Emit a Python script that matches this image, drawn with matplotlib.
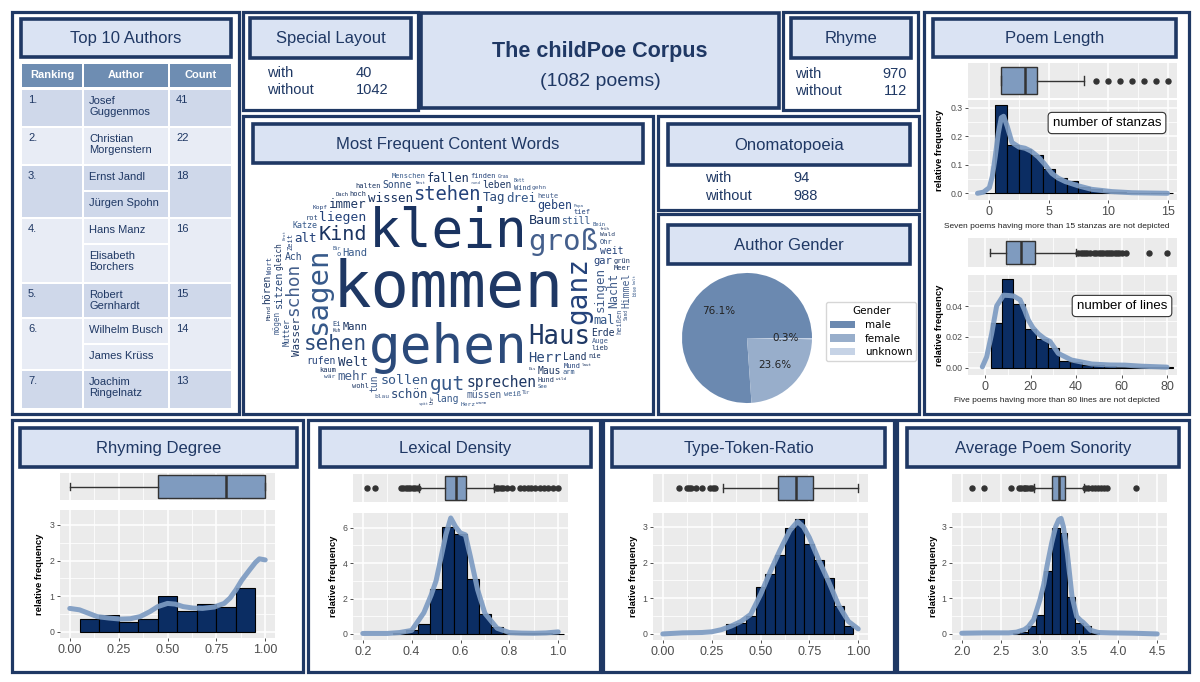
import numpy as np
import matplotlib
matplotlib.use('Agg')
import matplotlib.pyplot as plt
from matplotlib.patches import Rectangle

plt.rcParams['font.family'] = ['Liberation Sans', 'DejaVu Sans']

# ---------------------------------------------------------------- data
corpus_title = 'The childPoe Corpus'
corpus_size = 1082
with_without = ['with', 'without']
special_layout_counts = [40, 1042]
rhyme_counts = [970, 112]
onomatopoeia_counts = [94, 988]

table_columns = ['Ranking', 'Author', 'Count']
author_ranks = ['1.', '2.', '3.', '4.', '5.', '6.', '7.']
author_names = [['Josef\nGuggenmos'], ['Christian\nMorgenstern'],
                ['Ernst Jandl', 'Jürgen Spohn'], ['Hans Manz', 'Elisabeth\nBorchers'],
                ['Robert\nGernhardt'], ['Wilhelm Busch', 'James Krüss'],
                ['Joachim\nRingelnatz']]
author_counts = [41, 22, 18, 16, 15, 14, 13]

gender_labels = ['male', 'female', 'unknown']
gender_share = [76.1, 23.6, 0.3]

cloud_words = ['kommen', 'gehen', 'klein', 'sagen', 'ganz', 'groß', 'Haus', 'sehen', 'Kind', 'gut',
               'stehen', 'schon', 'sprechen', 'Herr', 'Baum', 'sollen', 'liegen', 'singen', 'Welt', 'Tag',
               'wissen', 'drei', 'alt', 'mehr', 'immer', 'schön', 'fallen', 'mal', 'geben', 'Nacht',
               'Wasser', 'sitzen', 'Mann', 'Hand', 'gar', 'Himmel', 'Maus', 'Ach', 'Land', 'still',
               'rufen', 'müssen', 'leben', 'Sonne', 'Erde', 'lang', 'weit', 'tun', 'hören', 'denken',
               'fliegen', 'Katze', 'lassen', 'Traum', 'bleiben', 'Mutter', 'gleich', 'schnell', 'laufen', 'mögen',
               'tragen', 'Vater', 'Stern', 'nehmen', 'Mund', 'Auge', 'Hund', 'schauen', 'kaum', 'weiß',
               'Zeit', 'heißen', 'wohl', 'Ohr', 'hoch', 'schreiben', 'Wort', 'Frau', 'Meer', 'Wind',
               'halten', 'Menschen', 'finden', 'heute', 'lieb', 'rot', 'grün', 'arm', 'tief', 'zwei',
               'voll', 'Ei', 'nie', 'o', 'Licht', 'blau', 'Wald', 'lachen', 'leise', 'Herz',
               'Kopf', 'gehn', 'Schnee', 'gern', 'schwarz', 'recht', 'bald', 'König', 'Mond', 'wär',
               'Tier', 'ziehen', 'Gott', 'Gedicht', 'Regen', 'fahren', 'dunkel', 'Fenster', 'Stein', 'Blatt',
               'Lied', 'Schwein', 'Leute', 'Bein', 'bringen', 'stehn', 'Vogel', 'Pferd', 'Dach', 'See',
               'Stadt', 'Elefant', 'erster', 'Glück', 'Luft', 'Fisch', 'Ende', 'Schlaf', 'Winter', 'Abend',
               'Garten', 'Bett', 'Gras', 'wohnen', 'lieben', 'Wein', 'Uhr', 'weinen', 'Tisch', 'dürfen',
               'hell', 'bunt', 'vielleicht', 'träumen', 'legen', 'froh', 'Kuh', 'Sand', 'Ding', 'böse',
               'Nase', 'Wolke', 'Blume', 'Hase', 'fragen', 'Bär', 'Freund', 'Tür', 'Boot', 'Insel',
               'Sommer', 'Morgen', 'Nest', 'rund', 'wild', 'Schule', 'lesen', 'spielen', 'Apfel', 'Brot',
               'Eis', 'Kinder', 'laut', 'kalt', 'warm', 'spät', 'früh', 'oben', 'unten', 'Papa']
cloud_sizes = [46, 38, 38, 21, 20, 21, 18.5, 15, 14.5, 14,
               13.5, 12.8, 10.5, 10, 9.6, 9.6, 9.4, 9, 9, 9,
               9, 9, 9, 9, 9, 8.9, 8.6, 8.6, 8.4, 8.4,
               7.8, 7.5, 7.5, 7.5, 7.5, 7, 7, 7, 7, 7,
               7, 7, 7, 7, 7, 7, 7, 7, 7, 6.5,
               6.5, 6, 6, 6, 6, 5.5, 5.5, 5.5, 5.5, 5.5,
               5.5, 5.5, 5.5, 5.5, 5, 5, 5, 5, 5, 5,
               5, 5, 5, 5, 5, 5, 5, 5, 5, 5,
               5, 5, 5, 5, 5, 5, 5, 5, 5, 5,
               5, 5, 5, 5, 4.5, 4.5, 4.5, 4.5, 4.5, 4.5,
               4.5, 4.5, 4.5, 4.5, 4.5, 4.5, 4.5, 4.5, 4.5, 4.5,
               4.5, 4.5, 4.5, 4.2, 4.2, 4.2, 4.2, 4.2, 4.2, 4.2,
               4.2, 4, 4, 4, 4, 4, 4, 4, 4, 4,
               3.8, 3.8, 3.8, 3.8, 3.8, 3.8, 3.8, 3.8, 3.8, 3.8,
               3.5, 3.5, 3.5, 3.5, 3.5, 3.5, 3.5, 3.5, 3.5, 3.5,
               3.5, 3.5, 3.5, 3.5, 3.5, 3.3, 3.3, 3.3, 3.3, 3.3,
               3.3, 3.3, 3.3, 3.3, 3.3, 3.3, 3.3, 3.3, 3.3, 3.3,
               3, 3, 3, 3, 3, 3, 3, 3, 3, 3,
               3, 3, 3, 3, 3, 3, 3, 3, 3, 3]
cloud_vertical = [0, 0, 0, 1, 1, 0, 0, 0, 0, 0,
                  0, 1, 0, 0, 0, 0, 0, 1, 0, 0,
                  0, 0, 0, 0, 0, 0, 0, 0, 0, 1,
                  1, 1, 0, 0, 0, 1, 0, 0, 0, 0,
                  0, 0, 0, 0, 0, 0, 0, 1, 1, 0,
                  0, 0, 0, 0, 1, 1, 1, 1, 1, 1,
                  1, 0, 0, 0, 0, 0, 0, 1, 0, 0,
                  1, 1, 0, 0, 0, 0, 1, 1, 0, 0,
                  0, 0, 0, 0, 0, 0, 0, 0, 0, 0,
                  0, 0, 0, 0, 0, 0, 0, 1, 0, 0,
                  0, 0, 0, 0, 1, 0, 0, 1, 1, 0,
                  0, 0, 0, 1, 1, 1, 1, 0, 0, 0,
                  0, 0, 0, 0, 0, 0, 0, 0, 0, 0,
                  0, 0, 0, 0, 0, 0, 0, 0, 0, 0,
                  0, 0, 0, 0, 0, 0, 1, 1, 0, 1,
                  0, 0, 0, 0, 0, 0, 0, 1, 0, 1,
                  0, 1, 0, 0, 1, 0, 0, 0, 1, 0,
                  0, 1, 0, 0, 0, 1, 0, 0, 0, 1,
                  0, 0, 0, 1, 0, 0, 0, 1, 0, 0]

# poem length: stanzas
stanza_bins = [0, 1, 2, 3, 4, 5, 6, 7, 8, 9, 10, 11, 12, 13, 14, 15]
stanza_freq = [0.0, 0.31, 0.17, 0.155, 0.135, 0.084, 0.053, 0.042, 0.022, 0.015, 0.006, 0.003, 0.002, 0.001, 0.001, 0.001]
stanza_dens_x = [-1, -0.5, 0, 0.25, 0.5, 0.75, 1.0, 1.2, 1.5, 1.9, 2.5, 3.0, 3.5, 4.1, 4.6, 5.25, 5.8, 6.4, 7.5, 8.6, 10.3, 12, 13.5, 15]
stanza_dens_y = [0.0, 0.004, 0.02, 0.06, 0.13, 0.21, 0.265, 0.27, 0.235, 0.178, 0.162, 0.158, 0.148, 0.128, 0.105, 0.07, 0.053, 0.041, 0.026, 0.014, 0.006, 0.002, 0.001, 0.0]
stanza_box = [1, 1, 3, 4, 8]
stanza_outliers = [9, 10, 11, 12, 13, 14, 15]

# poem length: lines
line_bins = [5, 10, 15, 20, 25, 30, 35, 40, 45, 50, 55, 60, 65, 70, 75, 80]
line_freq = [0.0288, 0.0575, 0.0413, 0.0251, 0.0184, 0.0125, 0.0043, 0.0035, 0.002, 0.002, 0.001, 0.0008, 0.0006, 0.0003, 0.0002, 0.0002]
line_dens_x = [-1.2, 0.7, 2.9, 5.1, 8.1, 10.5, 12.5, 15.4, 17.5, 19, 21, 23.4, 26, 28.6, 32.2, 38, 47, 55, 61.5, 68.9, 80]
line_dens_y = [0.0006, 0.007, 0.022, 0.040, 0.047, 0.0468, 0.0465, 0.044, 0.037, 0.031, 0.026, 0.022, 0.019, 0.017, 0.0093, 0.005, 0.0024, 0.0018, 0.0017, 0.001, 0.0004]
line_box = [2, 9, 16, 22, 40]
line_outliers = [41, 42, 43, 44, 45, 46, 48, 49, 50, 51, 52, 53, 54, 55, 56, 57, 58, 59, 60, 62, 72, 80]

# rhyming degree
rhyming_bins = [0.1, 0.2, 0.3, 0.4, 0.5, 0.6, 0.7, 0.8, 0.9]
rhyming_freq = [0.37, 0.48, 0.28, 0.36, 1.0, 0.59, 0.78, 0.71, 1.24]
rhyming_dens_x = [0.0, 0.05, 0.14, 0.2, 0.26, 0.31, 0.36, 0.41, 0.45, 0.5, 0.54, 0.58, 0.63, 0.68, 0.74, 0.79, 0.82, 0.85, 0.88, 0.92, 0.95, 0.97, 1.0]
rhyming_dens_y = [0.66, 0.62, 0.43, 0.39, 0.36, 0.37, 0.43, 0.57, 0.71, 0.8, 0.78, 0.71, 0.67, 0.66, 0.7, 0.8, 0.95, 1.18, 1.45, 1.74, 1.95, 2.05, 2.02]
rhyming_box = [0.0, 0.45, 0.80, 1.0, 1.0]
rhyming_outliers = []

# lexical density
lexical_bins = [0.35, 0.40, 0.45, 0.50, 0.55, 0.60, 0.65, 0.70, 0.75, 0.80, 0.85, 0.90, 0.95, 1.00]
lexical_freq = [0.04, 0.23, 0.56, 2.52, 6.03, 5.64, 3.12, 1.13, 0.41, 0.08, 0.04, 0.04, 0.03, 0.02]
lexical_dens_x = [0.2, 0.3, 0.35, 0.4, 0.45, 0.48, 0.5, 0.52, 0.54, 0.56, 0.58, 0.6, 0.62, 0.64, 0.67, 0.7, 0.75, 0.8, 0.85, 0.9, 0.95, 1.0]
lexical_dens_y = [0.03, 0.03, 0.08, 0.2, 1.2, 2.2, 3.0, 4.3, 5.6, 6.55, 6.05, 5.7, 5.6, 4.4, 2.5, 1.16, 0.32, 0.08, 0.05, 0.04, 0.06, 0.12]
lexical_box = [0.431, 0.537, 0.581, 0.622, 0.737]
lexical_outliers = [0.216, 0.248, 0.355, 0.365, 0.375, 0.385, 0.395, 0.405, 0.415, 0.425,
                    0.745, 0.755, 0.765, 0.775, 0.79, 0.81, 0.845, 0.86, 0.875, 0.89, 0.905, 0.925, 0.94, 0.96, 0.98, 1.0]

# type-token-ratio
ttr_bins = [0.35, 0.40, 0.45, 0.50, 0.55, 0.60, 0.65, 0.70, 0.75, 0.80, 0.85, 0.90, 0.95]
ttr_freq = [0.28, 0.31, 0.49, 1.31, 1.69, 2.22, 2.96, 3.22, 2.53, 2.06, 1.57, 0.79, 0.23]
ttr_dens_x = [0.0, 0.1, 0.2, 0.25, 0.3, 0.35, 0.4, 0.45, 0.5, 0.55, 0.6, 0.65, 0.69, 0.72, 0.75, 0.8, 0.85, 0.9, 0.95, 1.0]
ttr_dens_y = [0.0, 0.03, 0.04, 0.06, 0.12, 0.22, 0.35, 0.55, 1.1, 1.75, 2.35, 2.9, 3.15, 3.0, 2.7, 2.05, 1.45, 0.8, 0.35, 0.14]
ttr_box = [0.307, 0.588, 0.681, 0.77, 1.0]
ttr_outliers = [0.085, 0.125, 0.135, 0.145, 0.17, 0.2, 0.24, 0.255, 0.265]

# average poem sonority
son_bins = [2.7, 2.8, 2.9, 3.0, 3.1, 3.2, 3.3, 3.4, 3.5, 3.6, 3.7]
son_freq = [0.02, 0.05, 0.21, 0.52, 1.77, 2.96, 2.84, 1.03, 0.31, 0.21, 0.03]
son_dens_x = [2.0, 2.3, 2.6, 2.7, 2.8, 2.85, 2.92, 3.0, 3.05, 3.09, 3.15, 3.2, 3.24, 3.27, 3.3, 3.35, 3.41, 3.47, 3.52, 3.55, 3.6, 3.65, 3.75, 3.9, 4.2, 4.5]
son_dens_y = [0.02, 0.03, 0.03, 0.05, 0.12, 0.2, 0.4, 0.96, 1.4, 1.9, 2.55, 3.0, 3.2, 3.24, 3.0, 2.26, 1.05, 0.49, 0.38, 0.33, 0.22, 0.1, 0.04, 0.03, 0.02, 0.0]
son_box = [2.92, 3.154, 3.24, 3.32, 3.56]
son_outliers = [2.128, 2.278, 2.63, 2.73, 2.76, 2.79, 2.81, 2.84, 2.87, 2.9,
                3.58, 3.62, 3.66, 3.7, 3.74, 3.78, 3.82, 3.86, 4.226]

# ---------------------------------------------------------------- style
NAVY = '#1f3864'
HEAD_FILL = '#dae3f3'
BAR = '#0b2d63'
DENS = '#7d9bc2'
BOXFILL = '#7f9bbf'
W, H = 1200, 682

fig = plt.figure(figsize=(12, 6.82), dpi=100, facecolor='white')
bg = fig.add_axes([0, 0, 1, 1])
bg.set_xlim(0, W)
bg.set_ylim(H, 0)
bg.axis('off')
bg.set_zorder(-5)


def panel(x0, y0, x1, y1):
    bg.add_patch(Rectangle((x0, y0), x1 - x0, y1 - y0, facecolor='white',
                           edgecolor=NAVY, lw=2.3, zorder=1))


def header(x0, y0, x1, y1, text, size=12):
    bg.add_patch(Rectangle((x0, y0), x1 - x0, y1 - y0, facecolor=HEAD_FILL,
                           edgecolor=NAVY, lw=2.6, zorder=2))
    bg.text((x0 + x1) / 2, (y0 + y1) / 2 + 1, text, ha='center', va='center',
            fontsize=size, color=NAVY, zorder=3)


def px_axes(x0, y0, x1, y1):
    return fig.add_axes([x0 / W, 1 - y1 / H, (x1 - x0) / W, (y1 - y0) / H])


# ---------------------------------------------------------------- panels
panel(12, 12, 239, 414)
panel(243, 12, 418, 110)
panel(783, 12, 918, 110)
panel(924, 12, 1189, 414)
panel(243, 116, 653, 414)
panel(658, 116, 919, 210)
panel(658, 214, 919, 414)
for bx in [(12, 303), (308, 600), (603, 894), (897, 1189)]:
    panel(bx[0], 420, bx[1], 672)

bg.add_patch(Rectangle((421, 13), 358, 95, facecolor=HEAD_FILL, edgecolor=NAVY, lw=2.6, zorder=2))
bg.text(600, 52, corpus_title, ha='center', va='center', fontsize=15.5,
        fontweight='bold', color=NAVY, zorder=3)
bg.text(600, 81, f'({corpus_size} poems)', ha='center', va='center', fontsize=14,
        color=NAVY, zorder=3)

header(21, 19, 231, 57, 'Top 10 Authors')
header(250, 18, 411, 58, 'Special Layout')
header(791, 18, 911, 58, 'Rhyme')
header(933, 19, 1176, 57, 'Poem Length')
header(253, 124, 643, 163, 'Most Frequent Content Words')
header(668, 124, 910, 165, 'Onomatopoeia')
header(668, 225, 910, 264, 'Author Gender')
header(20, 428, 297, 467, 'Rhyming Degree')
header(320, 428, 591, 467, 'Lexical Density')
header(612, 428, 885, 467, 'Type-Token-Ratio')
header(907, 428, 1179, 467, 'Average Poem Sonority')

for i, lab in enumerate(with_without):
    yy = 73 + 17 * i
    bg.text(267, yy, lab, ha='left', va='center', fontsize=10.5, color=NAVY)
    bg.text(356, yy, str(special_layout_counts[i]), ha='left', va='center', fontsize=10.5, color=NAVY)
    yy = 74 + 17 * i
    bg.text(795, yy, lab, ha='left', va='center', fontsize=10.5, color=NAVY)
    bg.text(907, yy, str(rhyme_counts[i]), ha='right', va='center', fontsize=10.5, color=NAVY)
    yy = 178 + 18 * i
    bg.text(705, yy, lab, ha='left', va='center', fontsize=10.5, color=NAVY)
    bg.text(793, yy, str(onomatopoeia_counts[i]), ha='left', va='center', fontsize=10.5, color=NAVY)

# ---------------------------------------------------------------- table
col_x = [(22, 82), (84, 168), (170, 231)]
row_y = [(90, 126), (128, 164), (166, 217), (219, 282), (284, 317), (319, 369), (371, 408)]
sub_rows = {2: [(166, 190), (192, 217)], 3: [(219, 243), (245, 282)], 5: [(319, 343), (345, 369)]}
DARK, LIGHT, THEAD = '#cfd8ea', '#e8ecf5', '#6e8db2'
for c, (xa, xb) in enumerate(col_x):
    bg.add_patch(Rectangle((xa, 64), xb - xa, 23, facecolor=THEAD, edgecolor='none', zorder=2))
    bg.text((xa + xb) / 2, 75.5, table_columns[c], ha='center', va='center', fontsize=8,
            fontweight='bold', color='white', zorder=3)
for r, (ya, yb) in enumerate(row_y):
    fc = DARK if r % 2 == 0 else LIGHT
    for c in (0, 2):
        xa, xb = col_x[c]
        bg.add_patch(Rectangle((xa, ya), xb - xa, yb - ya, facecolor=fc, edgecolor='none', zorder=2))
    bg.text(28, ya + 5, author_ranks[r], ha='left', va='top', fontsize=8, color=NAVY, zorder=3)
    bg.text(176, ya + 5, str(author_counts[r]), ha='left', va='top', fontsize=8, color=NAVY, zorder=3)
    cells = sub_rows.get(r, [(ya, yb)])
    for (sa, sb), name in zip(cells, author_names[r]):
        xa, xb = col_x[1]
        bg.add_patch(Rectangle((xa, sa), xb - xa, sb - sa, facecolor=fc, edgecolor='none', zorder=2))
        bg.text(89, sa + 6, name, ha='left', va='top', fontsize=8, color=NAVY,
                linespacing=1.15, zorder=3)


# ---------------------------------------------------------------- gg charts
def gg_axes(rect):
    ax = px_axes(*rect)
    ax.set_facecolor('#ebebeb')
    for s in ax.spines.values():
        s.set_visible(False)
    ax.set_axisbelow(True)
    return ax


def style_axis(ax, axis, lim, major, minor, labels, labelsize):
    setl = ax.set_xlim if axis == 'x' else ax.set_ylim
    sett = ax.set_xticks if axis == 'x' else ax.set_yticks
    setl(*lim)
    sett(major)
    sett(minor, minor=True)
    if labels is None:
        ax.tick_params(axis=axis, which='both', length=0,
                       labelbottom=False, labelleft=False)
    else:
        (ax.set_xticklabels if axis == 'x' else ax.set_yticklabels)(labels)
        ax.tick_params(axis=axis, which='major', length=2.5, width=0.6, color='#333333',
                       labelsize=labelsize, labelcolor='#4d4d4d', pad=1.5)
        ax.tick_params(axis=axis, which='minor', length=0)
    ax.grid(True, axis=axis, which='major', color='white', lw=1.1)
    ax.grid(True, axis=axis, which='minor', color='white', lw=0.55)


def box_chart(rect, stats, outliers, xlim, xmaj, xmin_, width):
    ax = gg_axes(rect)
    st = dict(whislo=stats[0], q1=stats[1], med=stats[2], q3=stats[3], whishi=stats[4],
              fliers=np.array(outliers, dtype=float))
    ax.bxp([st], positions=[0], widths=[width], orientation='horizontal', patch_artist=True,
           manage_ticks=False, capwidths=[width * 0.3],
           boxprops=dict(facecolor=BOXFILL, edgecolor='#333333', lw=1.0),
           medianprops=dict(color='#333333', lw=1.8),
           whiskerprops=dict(color='#333333', lw=1.0),
           capprops=dict(color='#333333', lw=1.0),
           flierprops=dict(marker='o', markerfacecolor='#333333', markeredgecolor='#333333',
                           markersize=3.6, linestyle='none'))
    style_axis(ax, 'x', xlim, xmaj, xmin_, None, 9)
    ax.set_ylim(-0.5, 0.5)
    ax.set_yticks([])
    return ax


def hist_chart(rect, bins, freq, binw, dx, dy, xlim, xmaj, xlab, xmin_,
               ylim, ymaj, ylab, ymin_, ylabel_x):
    ax = gg_axes(rect)
    ax.bar(bins, freq, width=binw, color=BAR, edgecolor='black', lw=0.8, zorder=2)
    ax.plot(dx, dy, color=DENS, lw=3.6, alpha=0.92, solid_joinstyle='round',
            solid_capstyle='round', zorder=3)
    style_axis(ax, 'x', xlim, xmaj, xmin_, xlab, 9)
    style_axis(ax, 'y', ylim, ymaj, ymin_, ylab, 6.3)
    ycen = (rect[1] + rect[3]) / 2
    ax.text(ylabel_x / W, 1 - ycen / H, 'relative frequency', transform=fig.transFigure,
            rotation=90, ha='center', va='center', fontsize=6.8, fontweight='bold', color='black')
    return ax


box_chart((968, 63, 1177, 98), stanza_box, stanza_outliers, (-1.8, 15.8),
          [0, 5, 10, 15], [2.5, 7.5, 12.5], 0.78)
axs = hist_chart((968, 100, 1177, 200), stanza_bins, stanza_freq, 1.0, stanza_dens_x, stanza_dens_y,
                 (-1.8, 15.8), [0, 5, 10, 15], ['0', '5', '10', '15'], [2.5, 7.5, 12.5],
                 (-0.0235, 0.327), [0, 0.1, 0.2, 0.3], ['0.0', '0.1', '0.2', '0.3'],
                 [0.05, 0.15, 0.25], 940)
axs.text(1107 / W, 1 - 123 / H, 'number of stanzas', transform=fig.transFigure, ha='center',
         va='center', fontsize=9.5, color='black', zorder=5,
         bbox=dict(boxstyle='round,pad=0.35,rounding_size=0.3', facecolor='white',
                   edgecolor='#333333', lw=0.8))
bg.text(1057, 226, 'Seven poems having more than 15 stanzas are not depicted', ha='center',
        va='center', fontsize=6, color='#222222')

box_chart((968, 238, 1177, 267), line_box, line_outliers, (-7.5, 84.4),
          [0, 20, 40, 60, 80], [10, 30, 50, 70], 0.8)
axl = hist_chart((968, 275, 1177, 375), line_bins, line_freq, 5.0, line_dens_x, line_dens_y,
                 (-7.5, 84.4), [0, 20, 40, 60, 80], ['0', '20', '40', '60', '80'], [10, 30, 50, 70],
                 (-0.0047, 0.0601), [0, 0.02, 0.04], ['0.00', '0.02', '0.04'],
                 [0.01, 0.03, 0.05], 940)
axl.text(1122 / W, 1 - 306 / H, 'number of lines', transform=fig.transFigure, ha='center',
         va='center', fontsize=9.5, color='black', zorder=5,
         bbox=dict(boxstyle='round,pad=0.35,rounding_size=0.3', facecolor='white',
                   edgecolor='#333333', lw=0.8))
bg.text(1057, 401, 'Five poems having more than 80 lines are not depicted', ha='center',
        va='center', fontsize=6, color='#222222')

q_ticks = [0, 0.25, 0.5, 0.75, 1.0]
q_labels = ['0.00', '0.25', '0.50', '0.75', '1.00']
q_minor = [0.125, 0.375, 0.625, 0.875]

box_chart((60, 473, 275, 500), rhyming_box, rhyming_outliers, (-0.05, 1.05), q_ticks, q_minor, 0.88)
hist_chart((60, 510, 275, 638), rhyming_bins, rhyming_freq, 0.1, rhyming_dens_x, rhyming_dens_y,
           (-0.05, 1.05), q_ticks, q_labels, q_minor, (-0.17, 3.42), [0, 1, 2, 3],
           ['0', '1', '2', '3'], [0.5, 1.5, 2.5], 40)

lx_ticks = [0.2, 0.4, 0.6, 0.8, 1.0]
box_chart((353, 474, 568, 502), lexical_box, lexical_outliers, (0.16, 1.04), lx_ticks,
          [0.3, 0.5, 0.7, 0.9], 0.88)
hist_chart((353, 513, 568, 640), lexical_bins, lexical_freq, 0.05, lexical_dens_x, lexical_dens_y,
           (0.16, 1.04), lx_ticks, ['0.2', '0.4', '0.6', '0.8', '1.0'], [0.3, 0.5, 0.7, 0.9],
           (-0.34, 6.83), [0, 2, 4, 6], ['0', '2', '4', '6'], [1, 3, 5], 334)

box_chart((653, 474, 868, 502), ttr_box, ttr_outliers, (-0.05, 1.05), q_ticks, q_minor, 0.88)
hist_chart((653, 513, 868, 640), ttr_bins, ttr_freq, 0.05, ttr_dens_x, ttr_dens_y,
           (-0.05, 1.05), q_ticks, q_labels, q_minor, (-0.17, 3.39), [0, 1, 2, 3],
           ['0', '1', '2', '3'], [0.5, 1.5, 2.5], 634)

s_ticks = [2.0, 2.5, 3.0, 3.5, 4.0, 4.5]
s_minor = [2.25, 2.75, 3.25, 3.75, 4.25]
box_chart((952, 474, 1167, 502), son_box, son_outliers, (1.875, 4.625), s_ticks, s_minor, 0.88)
hist_chart((952, 513, 1167, 640), son_bins, son_freq, 0.1, son_dens_x, son_dens_y,
           (1.875, 4.625), s_ticks, ['2.0', '2.5', '3.0', '3.5', '4.0', '4.5'], s_minor,
           (-0.17, 3.39), [0, 1, 2, 3], ['0', '1', '2', '3'], [0.5, 1.5, 2.5], 933)

# ---------------------------------------------------------------- pie
axp = px_axes(682, 273, 812, 403)
wedges, _, autotexts = axp.pie(gender_share, colors=['#6b89b0', '#98aecb', '#c6d3e6'],
                               autopct='%1.1f%%', startangle=0,
                               textprops=dict(fontsize=7.5, color='#222222', family='DejaVu Sans'))
axp.set_xlim(-1, 1)
axp.set_ylim(-1, 1)
axp.legend(wedges, gender_labels, title='Gender', loc='upper left',
           bbox_to_anchor=(821 / W, 1 - 297 / H), bbox_transform=fig.transFigure,
           prop=dict(family='DejaVu Sans', size=7.5), title_fontproperties=dict(family='DejaVu Sans', size=7.5),
           frameon=True, borderpad=0.4, labelspacing=0.35, handlelength=2.4, handletextpad=0.9,
           edgecolor='#cccccc')

# ---------------------------------------------------------------- word cloud
GX0, GY0, GX1, GY1 = 252, 166, 644, 410
GW, GH = GX1 - GX0, GY1 - GY0
axw = px_axes(GX0, GY0, GX1, GY1)
axw.set_xlim(0, GW)
axw.set_ylim(0, GH)
axw.axis('off')
ecx, ecy, ea, eb = 196.0, 122.0, 190.0, 120.0
yy, xx = np.mgrid[0:GH, 0:GW]
occ = (((xx + 0.5 - ecx) / ea) ** 2 + ((yy + 0.5 - ecy) / eb) ** 2) > 1.0
renderer = fig.canvas.get_renderer()
word_colors = ['#1f3864', '#2b4a7a', '#1a3360', '#36598a', '#24427a', '#445f8c']
for idx, (wd, sz, vert) in enumerate(zip(cloud_words, cloud_sizes, cloud_vertical)):
    t = axw.text(0, 0, wd, rotation=90 if vert else 0, ha='left', va='bottom',
                 fontsize=sz, family='DejaVu Sans Mono',
                 color=word_colors[idx % len(word_colors)])
    bb = t.get_window_extent(renderer)
    bwi, bhi = int(np.ceil(bb.width)) + 1, int(np.ceil(bb.height)) + 1
    if bwi >= GW or bhi >= GH:
        t.remove()
        continue
    S = np.zeros((GH + 1, GW + 1))
    S[1:, 1:] = occ.cumsum(0).cumsum(1)
    cnt = S[bhi:, bwi:] - S[:GH + 1 - bhi, bwi:] - S[bhi:, :GW + 1 - bwi] + S[:GH + 1 - bhi, :GW + 1 - bwi]
    ii, jj = np.mgrid[0:cnt.shape[0], 0:cnt.shape[1]]
    vy = (ii + bhi / 2 - ecy) / eb
    dist = ((jj + bwi / 2 - ecx) / ea) ** 2 + vy ** 2 + 0.03 * vy
    dist[cnt > 0] = np.inf
    pos = np.argmin(dist)
    if not np.isfinite(dist.flat[pos]):
        t.remove()
        continue
    i, j = np.unravel_index(pos, dist.shape)
    occ[i:i + bhi, j:j + bwi] = True
    t.set_position((j + 0.5, i + 0.5))

fig.savefig('out.png', dpi=100, facecolor='white')
